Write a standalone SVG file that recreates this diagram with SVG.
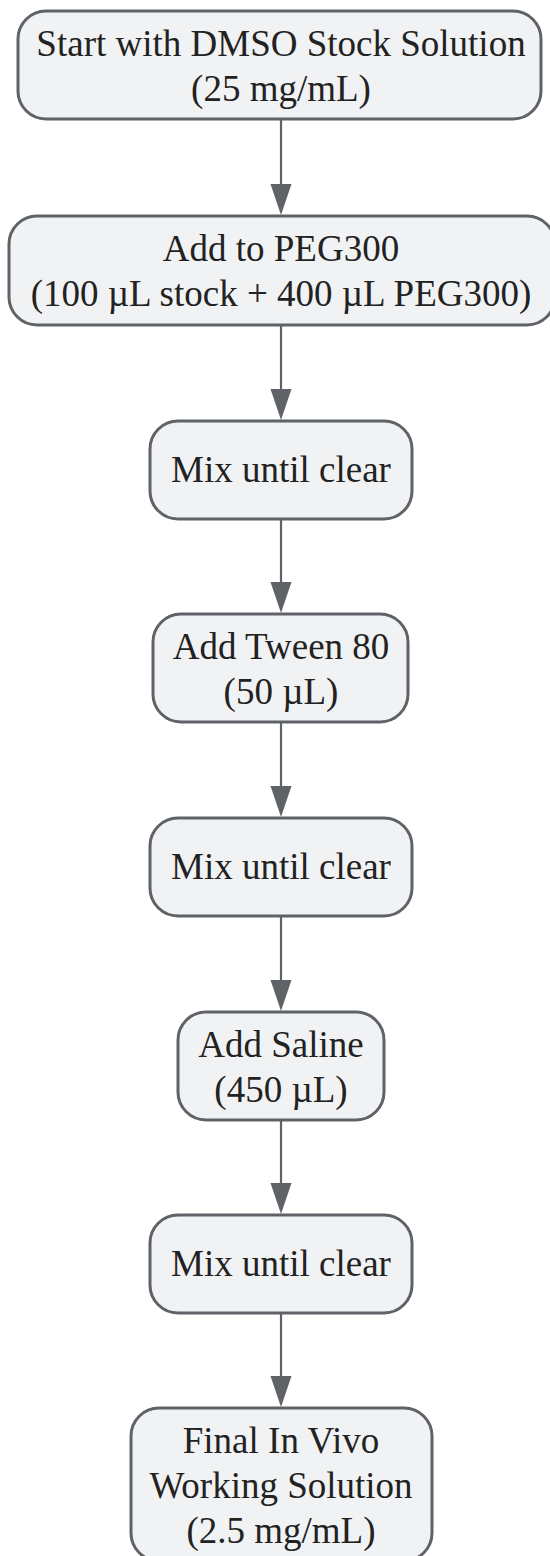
<svg xmlns="http://www.w3.org/2000/svg" width="550" height="1556" viewBox="0 0 550 1556">
<style>
.node rect{fill:#f1f2f4;stroke:#5f6267;stroke-width:3}
.node text{font-size:37px;fill:#222;text-anchor:middle}
.edge{stroke:#5f6267;stroke-width:2.2;fill:none}
.head{fill:#5f6267}
</style>
<rect width="550" height="1556" fill="#ffffff"/>
<g id="connectors">
<line class="edge" x1="281" y1="120" x2="281" y2="184"/>
<path class="head" d="M270.5,184 L291.5,184 L281,215 Z"/>
<line class="edge" x1="281" y1="326" x2="281" y2="389"/>
<path class="head" d="M270.5,389 L291.5,389 L281,420 Z"/>
<line class="edge" x1="281" y1="520" x2="281" y2="582"/>
<path class="head" d="M270.5,582 L291.5,582 L281,613 Z"/>
<line class="edge" x1="281" y1="723" x2="281" y2="786"/>
<path class="head" d="M270.5,786 L291.5,786 L281,817 Z"/>
<line class="edge" x1="281" y1="917" x2="281" y2="980"/>
<path class="head" d="M270.5,980 L291.5,980 L281,1011 Z"/>
<line class="edge" x1="281" y1="1121" x2="281" y2="1183"/>
<path class="head" d="M270.5,1183 L291.5,1183 L281,1214 Z"/>
<line class="edge" x1="281" y1="1314" x2="281" y2="1376"/>
<path class="head" d="M270.5,1376 L291.5,1376 L281,1407 Z"/>
</g>
<g font-family="'Liberation Serif', 'Times New Roman', 'DejaVu Serif', serif">
<g id="n1" class="node">
<rect x="18" y="11" width="523" height="108" rx="28"/>
<text x="281" y="56">Start with DMSO Stock Solution</text>
<text x="281" y="101">(25 mg/mL)</text>
</g>
<g id="n2" class="node">
<rect x="9" y="216" width="546" height="109" rx="28"/>
<text x="281" y="261">Add to PEG300</text>
<text x="281" y="306">(100 µL stock + 400 µL PEG300)</text>
</g>
<g id="n3" class="node">
<rect x="150" y="421" width="262" height="98" rx="28"/>
<text x="281" y="482">Mix until clear</text>
</g>
<g id="n4" class="node">
<rect x="153" y="614" width="255" height="108" rx="28"/>
<text x="281" y="659">Add Tween 80</text>
<text x="281" y="704">(50 µL)</text>
</g>
<g id="n5" class="node">
<rect x="150" y="818" width="262" height="98" rx="28"/>
<text x="281" y="879">Mix until clear</text>
</g>
<g id="n6" class="node">
<rect x="178" y="1012" width="206" height="108" rx="28"/>
<text x="281" y="1057">Add Saline</text>
<text x="281" y="1102">(450 µL)</text>
</g>
<g id="n7" class="node">
<rect x="150" y="1215" width="262" height="98" rx="28"/>
<text x="281" y="1276">Mix until clear</text>
</g>
<g id="n8" class="node">
<rect x="131" y="1408" width="301" height="153" rx="28"/>
<text x="281" y="1453">Final In Vivo</text>
<text x="281" y="1498">Working Solution</text>
<text x="281" y="1543">(2.5 mg/mL)</text>
</g>
</g>
</svg>
